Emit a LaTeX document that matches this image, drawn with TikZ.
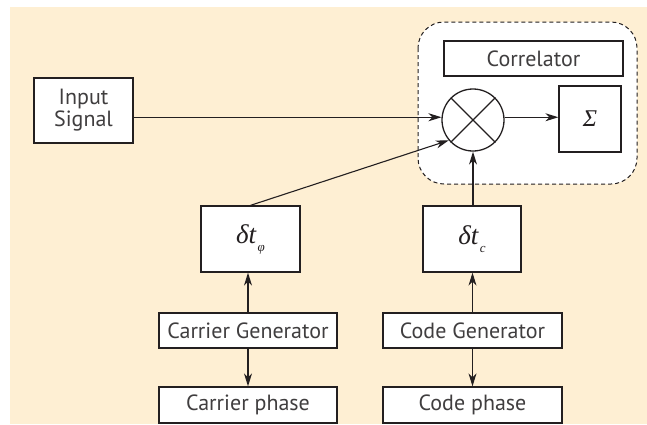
\documentclass[tikz,border=0pt]{standalone}
\usepackage[no-math]{fontspec}
\setmainfont{PT Sans}
\newfontfamily\symserif{Liberation Serif}
\usetikzlibrary{arrows.meta,calc}
\definecolor{bgpeach}{HTML}{FEEFD3}
\definecolor{ink}{HTML}{231F20}
\definecolor{txt}{HTML}{403E3F}
\newcommand{\dtsym}[1]{{\symserif\itshape\fontsize{27}{29}\selectfont δt\hspace{1.5pt}\raisebox{-8pt}{\fontsize{13}{13}\selectfont #1}}}
\tikzset{
  box/.style={draw=ink, line width=1.3pt, fill=white, inner sep=0pt, align=center, text=txt,
     font=\fontsize{22}{24}\selectfont},
  arr/.style={draw=ink, line width=1.1pt, -{Stealth[length=13pt,width=8pt,inset=4pt]}},
  ln/.style={draw=ink, line width=1pt},
}
\begin{document}
\begin{tikzpicture}[x=1pt,y=-1pt]
\useasboundingbox (0,0) rectangle (647,424);
\fill[bgpeach] (10,7) rectangle (647,424);
% dashed correlator region
\draw[ink, line width=1pt, dash pattern=on 4pt off 3pt, rounded corners=26pt, fill=white] (418,22) rectangle (637,184);

\node[box, minimum width=99pt, minimum height=65pt] (input) at (83.5,110.5) {Input\\[-2pt]Signal};
\node[box, minimum width=179pt, minimum height=35pt] (corr) at (533.5,58.5) {Correlator};
\node[draw=ink, line width=1.3pt, circle, minimum size=62pt, inner sep=0pt, fill=white] (mul) at (473,120) {};
\draw[ln, line width=1.1pt] (mul.45) -- (mul.225) (mul.135) -- (mul.315);
\node[box, minimum width=62pt, minimum height=66pt, text=ink, font=\symserif\itshape\fontsize{24}{26}\selectfont] (sig) at (590,119) {Σ};
\node[box, minimum width=99pt, minimum height=66pt, text=ink] (dphi) at (250.5,239) {\dtsym{φ}};
\node[box, minimum width=98pt, minimum height=66pt, text=ink] (dc) at (472,239) {\dtsym{c}};
\node[box, minimum width=178pt, minimum height=35pt] (cgen) at (248,330.5) {Carrier Generator};
\node[box, minimum width=179pt, minimum height=35pt] (kgen) at (472.5,330.5) {Code Generator};
\node[box, minimum width=178pt, minimum height=36pt] (cph) at (248,405) {Carrier phase};
\node[box, minimum width=179pt, minimum height=36pt] (kph) at (472.5,405) {Code phase};

\draw[arr] (input.east |- mul.175) -- (mul.175);
\draw[arr] (mul.5) -- (mul.5 -| sig.west);
\draw[arr] (dphi.north) -- (mul.220);
\draw[arr] (mul.south |- dc.north) -- (mul.south);
\draw[arr] (cgen.north) -- (cgen.north |- dphi.south);
\draw[arr] (cgen.south) -- (cgen.south |- cph.north);
\draw[arr] (kgen.north) -- (kgen.north |- dc.south);
\draw[arr] (kgen.south) -- (kgen.south |- kph.north);
\end{tikzpicture}
\end{document}
